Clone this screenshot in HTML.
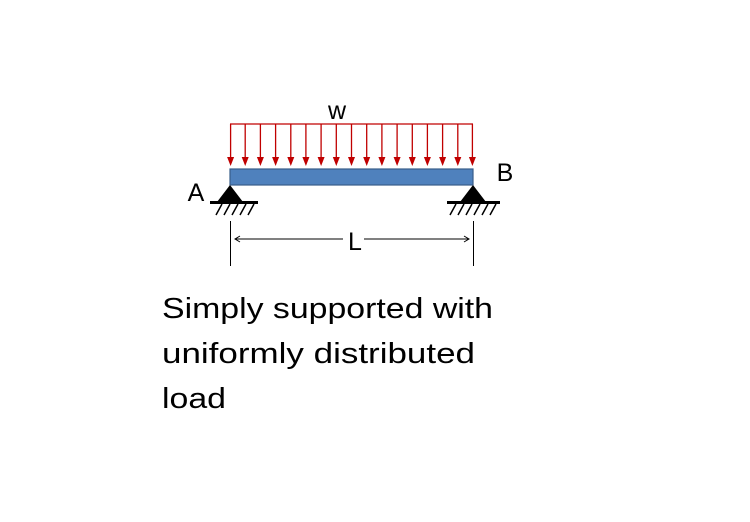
<!DOCTYPE html>
<html><head><meta charset="utf-8"><style>html,body{margin:0;padding:0;background:#fff}</style></head>
<body>
<svg width="750" height="517" viewBox="0 0 750 517" xmlns="http://www.w3.org/2000/svg" xmlns:xlink="http://www.w3.org/1999/xlink" font-family="Liberation Sans, sans-serif">
<defs>
<g id="ar"><line x1="0" y1="124" x2="0" y2="160" stroke="#C00000" stroke-width="1.3"/><polygon points="-3.5,157 3.5,157 0,166" fill="#C00000"/></g>
</defs>
<rect width="750" height="517" fill="#fff"/>
<line x1="230" y1="124" x2="473" y2="124" stroke="#C00000" stroke-width="1.3"/>
<use xlink:href="#ar" href="#ar" x="230.6"/>
<use xlink:href="#ar" href="#ar" x="245.2"/>
<use xlink:href="#ar" href="#ar" x="260.4"/>
<use xlink:href="#ar" href="#ar" x="275.6"/>
<use xlink:href="#ar" href="#ar" x="290.8"/>
<use xlink:href="#ar" href="#ar" x="305.9"/>
<use xlink:href="#ar" href="#ar" x="321.1"/>
<use xlink:href="#ar" href="#ar" x="336.3"/>
<use xlink:href="#ar" href="#ar" x="351.5"/>
<use xlink:href="#ar" href="#ar" x="366.7"/>
<use xlink:href="#ar" href="#ar" x="381.9"/>
<use xlink:href="#ar" href="#ar" x="397.1"/>
<use xlink:href="#ar" href="#ar" x="412.3"/>
<use xlink:href="#ar" href="#ar" x="427.4"/>
<use xlink:href="#ar" href="#ar" x="442.6"/>
<use xlink:href="#ar" href="#ar" x="457.8"/>
<use xlink:href="#ar" href="#ar" x="472.4"/>
<rect x="230" y="169" width="243" height="16" fill="#4F81BD" stroke="#385D8A" stroke-width="1.2"/>
<polygon points="230,185 217,202 243,202" fill="#000"/>
<line x1="210" y1="202.5" x2="258" y2="202.5" stroke="#000" stroke-width="3"/>
<g stroke="#000" stroke-width="1.5">
<line x1="222" y1="204" x2="216" y2="215"/><line x1="230" y1="204" x2="224" y2="215"/><line x1="238" y1="204" x2="232" y2="215"/><line x1="246" y1="204" x2="240" y2="215"/><line x1="254" y1="204" x2="248" y2="215"/>
</g>
<polygon points="473,185 460,202 486,202" fill="#000"/>
<line x1="447" y1="202.5" x2="500" y2="202.5" stroke="#000" stroke-width="3"/>
<g stroke="#000" stroke-width="1.5">
<line x1="456" y1="204" x2="450" y2="215"/><line x1="464" y1="204" x2="458" y2="215"/><line x1="472" y1="204" x2="466" y2="215"/><line x1="480" y1="204" x2="474" y2="215"/><line x1="488" y1="204" x2="482" y2="215"/><line x1="496" y1="204" x2="490" y2="215"/>
</g>
<g stroke="#000" stroke-width="1">
<line x1="230.5" y1="221" x2="230.5" y2="266"/><line x1="473.5" y1="221" x2="473.5" y2="266"/>
<line x1="235" y1="239" x2="343" y2="239"/><line x1="364" y1="239" x2="469" y2="239"/>
<polyline points="240,236 235,239 240,242" fill="none"/><polyline points="464,236 469,239 464,242" fill="none"/>
</g>
<g font-size="25" fill="#000">
<text x="355" y="250" text-anchor="middle">L</text>
<text x="196" y="201" text-anchor="middle">A</text>
<text x="505" y="181" text-anchor="middle">B</text>
<text x="337" y="119" text-anchor="middle">w</text>
</g>
<g font-size="29" fill="#000">
<text x="162" y="318" textLength="331" lengthAdjust="spacingAndGlyphs">Simply supported with</text>
<text x="162" y="363" textLength="313" lengthAdjust="spacingAndGlyphs">uniformly distributed</text>
<text x="162" y="408" textLength="64" lengthAdjust="spacingAndGlyphs">load</text>
</g>
</svg>
</body></html>
